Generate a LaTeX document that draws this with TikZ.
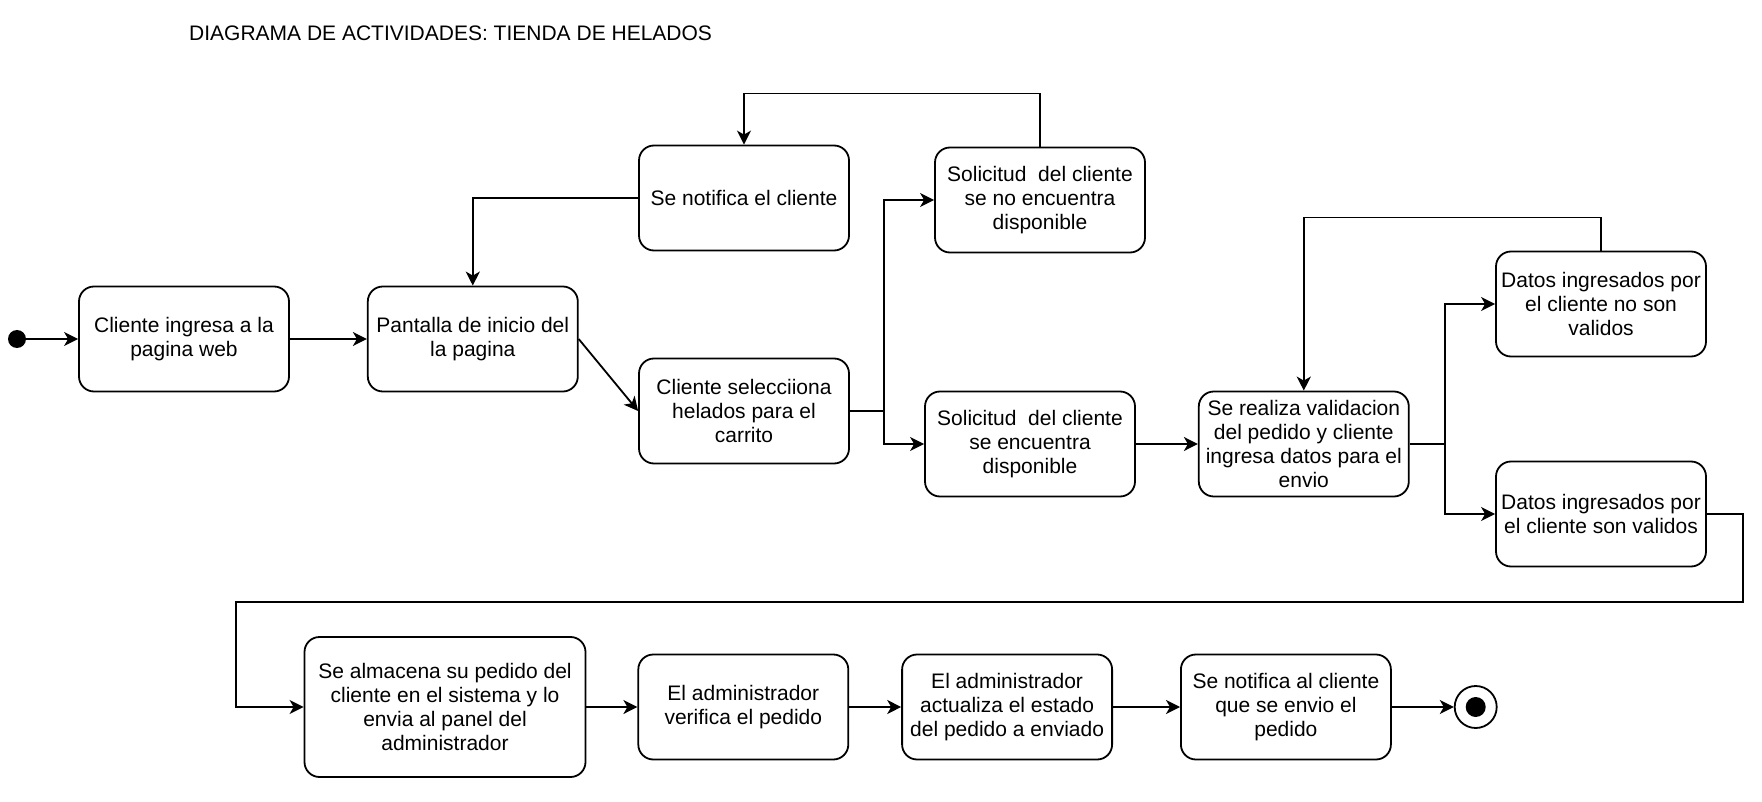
\documentclass[tikz,border=0pt]{standalone}
\usepackage{fontspec}
\setmainfont{Liberation Sans}
\usepackage{tikz}
\usetikzlibrary{arrows, arrows.meta, positioning, calc}
\tikzset{
  actividad/.style={rectangle,draw=black,line width=1.8pt,rounded corners=15pt,fill=white,minimum width=210pt,minimum height=105pt,align=center,inner sep=2pt,font=\fontsize{21}{24}\selectfont},
  actividad_g/.style={actividad,minimum width=281pt,minimum height=140pt},
  inicio/.style={circle,fill=black,inner sep=0pt,minimum size=18pt},
  fin/.style={circle,draw=black,line width=1.8pt,fill=white,inner sep=0pt,minimum size=42pt},
  flecha/.style={line width=1.8pt,black,-{Stealth[length=14pt,width=14pt,inset=4pt]}},
  titulo/.style={anchor=west,inner sep=0pt,font=\fontsize{21}{24}\selectfont},
}

\begin{document}
\begin{tikzpicture}[x=1pt,y=-1pt]
	    \useasboundingbox (0,0) rectangle (1762,802);
	    \node[titulo] (T) at (189,33) {DIAGRAMA DE ACTIVIDADES: TIENDA DE HELADOS};
	    % fila de arriba
	    \node[inicio] (I) at (17,339) {};
	    \node[actividad] (A) at (184,339) {Cliente ingresa a la\\pagina web};
	    \node[actividad,right=77pt of A] (B) {Pantalla de inicio del\\la pagina};
	    \node[actividad] (N) at (744,198) {Se notifica el cliente};
	    \node[actividad] (C) at (744,411) {Cliente selecciiona\\helados para el\\carrito};
	    \node[actividad] (D) at (1040,200) {Solicitud\ \ del cliente\\se no encuentra\\disponible};
	    \node[actividad] (E) at (1030,444) {Solicitud\ \ del cliente\\se encuentra\\disponible};
	    \node[actividad,right=62pt of E] (V) {Se realiza validacion\\del pedido y cliente\\ingresa datos para el\\envio};
	    \node[actividad] (X) at (1601,304) {Datos ingresados por\\el cliente no son\\validos};
	    \node[actividad] (Y) at (1601,514) {Datos ingresados por\\el cliente son validos};
	    % fila de abajo
	    \node[actividad_g] (S) at (445,707) {Se almacena su pedido del\\cliente en el sistema y lo\\envia al panel del\\administrador};
	    \node[actividad,right=51pt of S] (P) {El administrador\\verifica el pedido};
	    \node[actividad,right=52pt of P] (U) {El administrador\\actualiza el estado\\del pedido a enviado};
	    \node[actividad,right=67pt of U] (Z) {Se notifica al cliente\\que se envio el\\pedido};
	    \node[fin,right=62pt of Z] (F) {};
	    \fill (F.center) circle (10pt);
	    \coordinate (ramaC) at (884,411);
	    \coordinate (ramaV) at (1445,444);
	    \coordinate (vuelta) at (236,602);
	    \draw[flecha] (I) -- (A);
	    \draw[flecha] (A) -- (B);
	    \draw[flecha] (B.east) -- (C.west);
	    \draw[line width=1.8pt] (C.east) -- (ramaC);
	    \draw[flecha] (ramaC) |- (D.west);
	    \draw[flecha] (ramaC) |- (E.west);
	    \draw[flecha] (D.north) |- ([yshift=51pt]N.north) -- (N.north);
	    \draw[flecha] (N.west) -| (B.north);
	    \draw[flecha] (E) -- (V);
	    \draw[line width=1.8pt] (V.east) -- (ramaV);
	    \draw[flecha] (ramaV) |- (X.west);
	    \draw[flecha] (ramaV) |- (Y.west);
	    \draw[flecha] (X.north) -- ++(0,33pt) -| (V.north);
	    \draw[flecha] (Y.east) -- ++(36pt,0) |- (vuelta) |- (S.west);
	    \draw[flecha] (S) -- (P);
	    \draw[flecha] (P) -- (U);
	    \draw[flecha] (U) -- (Z);
	    \draw[flecha] (Z) -- (F);
	\end{tikzpicture}
\end{document}
